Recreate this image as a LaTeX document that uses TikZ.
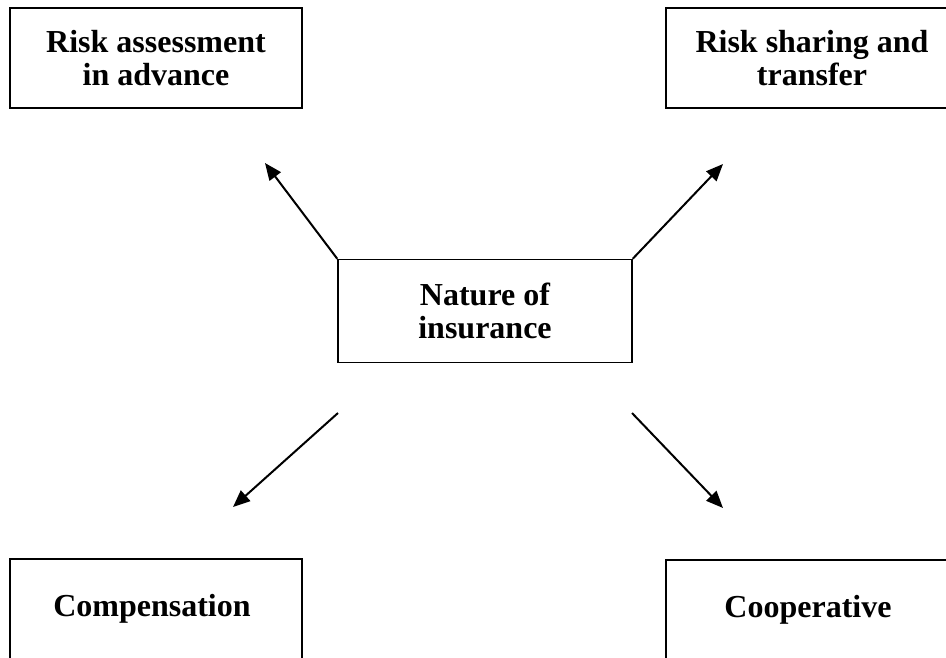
\documentclass[tikz,border=0pt]{standalone}
\usepackage{fontspec}
\setmainfont{Liberation Serif}
\usetikzlibrary{arrows.meta}
\def\boxW{292pt}
\def\boxH{100pt}

\begin{document}
\begin{tikzpicture}[
    x=1pt, y=-1pt,
    box/.style={
      draw, line width=1.5pt,
      minimum width=\boxW, minimum height=\boxH,
      inner sep=0pt, align=center,
      font=\fontsize{32}{33}\selectfont\bfseries
    },
    arrowtip/.style={
      line width=2pt,
      -{Triangle[length=17pt,width=14pt]}
    }
  ]
    \useasboundingbox (0,0) rectangle (946,657);

    \node[box] (RiskAssess) at (156,58) { Risk assessment\\in advance };
    \node[box] (RiskShare) at (812,58) { Risk sharing and\\transfer };

    \node[box, minimum width=294pt, minimum height=103pt] (Nature) at (485,311) { Nature of\\insurance };

    \node[box] (Compens) at (156,609) { Compensation };
    \node[box] (Coop) at (812,610) { Cooperative };

    \coordinate (tlTip) at (265,163);
    \coordinate (trTip) at (723,164);
    \coordinate (blTail) at (338,413);
    \coordinate (brTail) at (632,413);
    \coordinate (blTip) at (233,507);
    \coordinate (brTip) at (723,508);

    \draw[arrowtip] (Nature.north west) -- (tlTip);
    \draw[arrowtip] (Nature.north east) -- (trTip);
    \draw[arrowtip] (blTail) -- (blTip);
    \draw[arrowtip] (brTail) -- (brTip);
  \end{tikzpicture}
\end{document}
